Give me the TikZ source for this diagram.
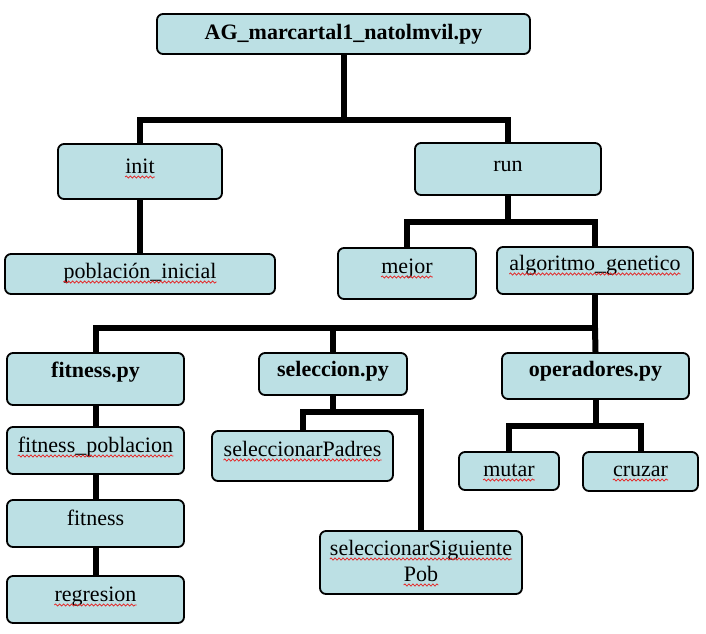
\documentclass[tikz,border=0pt]{standalone}
\usepackage{fontspec}
\setmainfont{Liberation Serif}
\newfontfamily\tnr{Liberation Serif}
\usetikzlibrary{backgrounds,decorations.pathmorphing}
\definecolor{boxfill}{RGB}{188,224,228}
\definecolor{spellred}{RGB}{230,30,30}
\tikzset{
  box/.style={draw=black, line width=1.8pt, fill=boxfill, rounded corners=6pt, inner sep=0pt},
  txt/.style={inner sep=0pt, anchor=base, font=\tnr\fontsize{22}{25}\selectfont},
  btxt/.style={txt, font=\tnr\fontsize{22}{25}\selectfont\bfseries},
  conn/.style={draw=black, line width=6pt, line join=miter},
  wavy/.style={draw=spellred, line width=0.7pt, decorate, decoration={snake, segment length=4pt, amplitude=1.1pt}}
}
\newcommand{\wav}[1]{\draw[wavy] ([yshift=-4pt]#1.base west) -- ([yshift=-4pt]#1.base east);}
\begin{document}
\begin{tikzpicture}[x=1pt,y=-1pt]
\useasboundingbox (0,0) rectangle (706,633);
% boxes
\node[box, minimum width=373pt, minimum height=40pt] (b-top) at (343.5,34) {};
\node[box, minimum width=164pt, minimum height=55pt] (b-init) at (140,171.5) {};
\node[box, minimum width=186pt, minimum height=52pt] (b-run) at (508,169) {};
\node[box, minimum width=270pt, minimum height=40pt] (b-pob) at (140,274) {};
\node[box, minimum width=138pt, minimum height=51pt] (b-mejor) at (407,273.5) {};
\node[box, minimum width=196pt, minimum height=47pt] (b-alg) at (595,270.5) {};
\node[box, minimum width=177pt, minimum height=52pt] (b-fitpy) at (95.5,379) {};
\node[box, minimum width=177pt, minimum height=47pt] (b-fitpob) at (95.5,450.5) {};
\node[box, minimum width=177pt, minimum height=47pt] (b-fit) at (95.5,523.5) {};
\node[box, minimum width=177pt, minimum height=47pt] (b-reg) at (95.5,599.5) {};
\node[box, minimum width=148pt, minimum height=42pt] (b-selpy) at (333,374) {};
\node[box, minimum width=181pt, minimum height=50pt] (b-selpad) at (302.5,456) {};
\node[box, minimum width=202pt, minimum height=63pt] (b-selsig) at (421,562.5) {};
\node[box, minimum width=187pt, minimum height=46pt] (b-oppy) at (595.5,376) {};
\node[box, minimum width=100pt, minimum height=38pt] (b-mutar) at (509,471) {};
\node[box, minimum width=115pt, minimum height=39pt] (b-cruzar) at (640.5,471.5) {};
% texts
\node[btxt] (t-top) at (343.5,39) {AG\_marcartal1\_natolmvil.py};
\node[txt] (t-init) at (140,173) {init};
\node[txt] (t-run) at (508,171) {run};
\node[txt] (t-pob) at (140,278) {población\_inicial};
\node[txt] (t-mejor) at (407,273) {mejor};
\node[txt] (t-alg) at (595,270) {algoritmo\_genetico};
\node[btxt] (t-fitpy) at (95.5,377) {fitness.py};
\node[txt] (t-fitpob) at (95.5,452) {fitness\_poblacion};
\node[txt] (t-fit) at (95.5,525) {fitness};
\node[txt] (t-reg) at (95.5,601) {regresion};
\node[btxt] (t-selpy) at (333,376) {seleccion.py};
\node[txt] (t-selpad) at (302.5,456) {seleccionarPadres};
\node[txt] (t-selsig1) at (421,555) {seleccionarSiguiente};
\node[txt] (t-selsig2) at (421,581) {Pob};
\node[btxt] (t-oppy) at (595.5,376) {operadores.py};
\node[txt] (t-mutar) at (509,476) {mutar};
\node[txt] (t-cruzar) at (640.5,476) {cruzar};
% spell-check underlines
\wav{t-init}\wav{t-pob}\wav{t-mejor}\wav{t-alg}\wav{t-fitpob}\wav{t-reg}
\wav{t-selpad}\wav{t-selsig1}\wav{t-selsig2}\wav{t-mutar}\wav{t-cruzar}
% junctions
\coordinate (j-top) at (343.5,120);
\coordinate (j-run) at (508,222);
\coordinate (j-alg) at (595,328);
\coordinate (j-sel) at (333,412);
\coordinate (j-op) at (595.5,426);
\begin{scope}[on background layer]
\draw[conn] (b-top.south) -- (j-top) -| (b-init.north);
\draw[conn] (j-top) -| (b-run.north);
\draw[conn] (b-init.south) -- (b-pob.north);
\draw[conn] (b-run.south) -- (j-run) -| (b-mejor.north);
\draw[conn] (j-run) -| (b-alg.north);
\draw[conn] (b-alg.south) -- (j-alg) -| (b-fitpy.north);
\draw[conn] (j-alg) -| (b-selpy.north);
\draw[conn] (j-alg) -- (b-oppy.north);
\draw[conn] (b-fitpy.south) -- (b-fitpob.north);
\draw[conn] (b-fitpob.south) -- (b-fit.north);
\draw[conn] (b-fit.south) -- (b-reg.north);
\draw[conn] (b-selpy.south) -- (j-sel) -| (b-selpad.north);
\draw[conn] (j-sel) -| (b-selsig.north);
\draw[conn] (b-oppy.south) -- (j-op) -| (b-mutar.north);
\draw[conn] (j-op) -| (b-cruzar.north);
\end{scope}
\end{tikzpicture}
\end{document}
